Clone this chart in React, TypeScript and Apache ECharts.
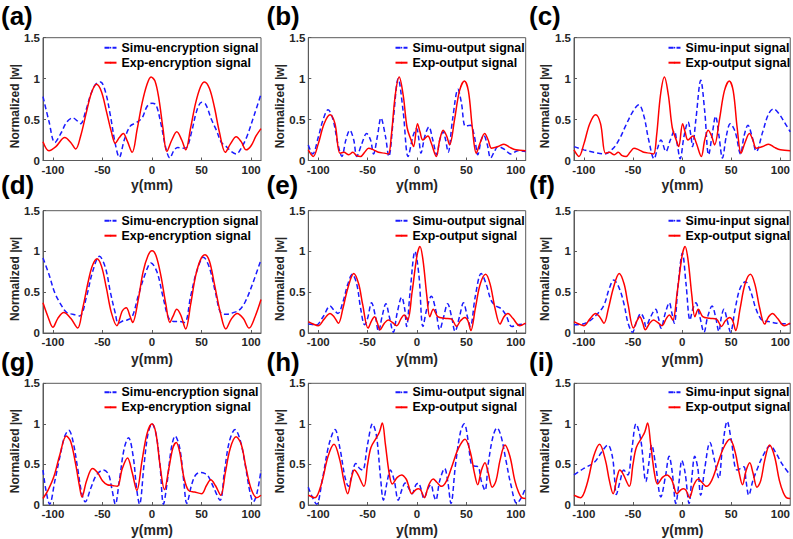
import React, { useEffect, useRef } from 'react';
import * as echarts from 'echarts';

const panelLetters = ['(a)', '(b)', '(c)', '(d)', '(e)', '(f)', '(g)', '(h)', '(i)'];
const simuNames = ['Simu-encryption signal', 'Simu-output signal', 'Simu-input signal'];
const expNames = ['Exp-encryption signal', 'Exp-output signal', 'Exp-output signal'];
const xTicks = [-100, -50, 0, 50, 100];
const xLabelText = 'y(mm)';
const yLabelText = 'Normalized |w|';

// (a)
const simuA = [[-110,0.78],[-104,0.48],[-98,0.22],[-92,0.33],[-86,0.47],[-80,0.52],[-75,0.48],[-72,0.45],[-67,0.6],[-62,0.8],[-57,0.93],[-52,0.96],[-47,0.84],[-42,0.55],[-37,0.2],[-33,0.04],[-28,0.25],[-22,0.42],[-16,0.46],[-10,0.52],[-5,0.66],[0,0.7],[4,0.68],[9,0.45],[14,0.15],[18,0.03],[22,0.12],[26,0.16],[31,0.15],[35,0.16],[40,0.35],[45,0.6],[50,0.71],[54,0.69],[60,0.5],[65,0.37],[70,0.22],[75,0.17],[80,0.11],[85,0.08],[90,0.15],[96,0.3],[103,0.55],[110,0.81]];
const expA = [[-110,0.23],[-104,0.12],[-97,0.17],[-88,0.28],[-82,0.22],[-77,0.14],[-72,0.3],[-66,0.6],[-61,0.83],[-56,0.93],[-51,0.84],[-46,0.6],[-41,0.35],[-37,0.21],[-33,0.28],[-29,0.33],[-25,0.24],[-20,0.1],[-15,0.38],[-10,0.7],[-5,0.93],[-1,1.02],[3,0.97],[7,0.75],[11,0.4],[15,0.11],[20,0.25],[25,0.35],[30,0.25],[34,0.13],[39,0.4],[44,0.7],[49,0.9],[53,0.96],[58,0.88],[63,0.65],[68,0.35],[74,0.1],[79,0.2],[85,0.29],[90,0.23],[95,0.13],[100,0.18],[105,0.3],[110,0.39]];
// (b)
const simuB = [[-110,0.19],[-105.5,0.08],[-100,0.28],[-95,0.5],[-90,0.62],[-85,0.5],[-80,0.2],[-76,0.05],[-72,0.25],[-68,0.37],[-64,0.25],[-61,0.05],[-56,0.2],[-51,0.33],[-47,0.25],[-44,0.08],[-40,0.3],[-36.5,0.52],[-32,0.3],[-28.5,0.05],[-24,0.5],[-19,1.0],[-14,0.6],[-9,0.05],[-4,0.3],[-0.5,0.39],[2,0.25],[4,0.09],[8,0.3],[12,0.41],[16,0.25],[20,0.07],[23,0.25],[26.5,0.35],[29,0.25],[31.5,0.1],[36,0.5],[41.5,0.87],[45,0.7],[49,0.42],[54,0.43],[58,0.3],[61.5,0.07],[65,0.25],[67.5,0.31],[71,0.2],[74.5,0.03],[78,0.1],[82,0.17],[88,0.14],[95,0.08],[102,0.12],[110,0.11]];
const expB = [[-110,0.13],[-105,0.05],[-100,0.2],[-94,0.45],[-88,0.56],[-83,0.45],[-78,0.09],[-74,0.1],[-69,0.07],[-65,0.1],[-61,0.06],[-57,0.05],[-53,0.1],[-49,0.15],[-44,0.13],[-39,0.1],[-33,0.09],[-29,0.08],[-26,0.3],[-22,0.8],[-18,1.02],[-14,0.8],[-10,0.4],[-6,0.25],[-3.5,0.17],[0.5,0.45],[3,0.35],[6,0.25],[11,0.3],[14.5,0.21],[19.5,0.05],[23,0.25],[26.5,0.37],[30,0.3],[33,0.19],[38,0.5],[43,0.85],[48,0.97],[52,0.85],[56,0.4],[60,0.09],[64,0.22],[68.5,0.33],[72,0.25],[75.5,0.15],[82,0.17],[88,0.2],[94,0.16],[100,0.13],[110,0.12]];
// (c)
const simuC = [[-110,0.17],[-100,0.13],[-90,0.1],[-79,0.08],[-70,0.15],[-63,0.28],[-58,0.41],[-50,0.6],[-44,0.68],[-39,0.55],[-34,0.25],[-28.5,0.02],[-25,0.15],[-21.5,0.25],[-16.5,0.11],[-12,0.25],[-8,0.36],[-5,0.2],[-2,0.02],[2,0.3],[6,0.47],[9,0.3],[10.5,0.17],[14,0.5],[19,0.98],[23,0.6],[27,0.07],[31,0.35],[34,0.54],[37.5,0.3],[41,0.03],[45,0.3],[49,0.45],[54,0.35],[59.5,0.08],[63,0.3],[67,0.43],[71,0.3],[75.5,0.11],[82,0.35],[88,0.57],[93,0.63],[98,0.58],[104,0.47],[110,0.35]];
// (d)
const simuD = [[-110,0.92],[-104,0.72],[-98,0.49],[-91,0.33],[-86,0.25],[-80,0.23],[-73,0.21],[-66,0.45],[-60,0.75],[-53,0.94],[-47,0.8],[-42,0.5],[-37,0.24],[-34,0.12],[-29,0.15],[-25,0.16],[-20,0.2],[-14,0.45],[-7,0.72],[-1,0.86],[5,0.75],[11,0.45],[17,0.18],[23,0.14],[28,0.14],[33,0.13],[39,0.45],[45,0.75],[52,0.93],[58,0.8],[64,0.5],[70,0.24],[76,0.23],[82,0.25],[88,0.28],[94,0.38],[102,0.62],[110,0.9]];
const expD = [[-110,0.37],[-105,0.2],[-100,0.07],[-95,0.18],[-89,0.25],[-82,0.18],[-75,0.06],[-70,0.3],[-64,0.65],[-60,0.83],[-55.5,0.91],[-51,0.82],[-46,0.55],[-41,0.25],[-35.5,0.09],[-30,0.27],[-26,0.31],[-22,0.2],[-19.5,0.13],[-14,0.4],[-9,0.75],[-4,0.95],[0,1.01],[4,0.95],[9,0.7],[14,0.35],[18,0.13],[21,0.2],[25,0.29],[29,0.22],[34,0.05],[39,0.35],[44,0.7],[49,0.9],[53.5,0.96],[58,0.88],[63,0.6],[69,0.25],[74.5,0.05],[80,0.17],[86,0.24],[92,0.18],[98,0.06],[104,0.2],[110,0.41]];
// (e)
const simuE = [[-110,0.11],[-102,0.1],[-95,0.2],[-88,0.33],[-84,0.28],[-80,0.24],[-75,0.38],[-70,0.6],[-65.5,0.72],[-61,0.6],[-57,0.3],[-53,0.1],[-50,0.18],[-46,0.37],[-42,0.2],[-39,0.02],[-35,0.22],[-31.5,0.36],[-28,0.2],[-24,0.01],[-20,0.25],[-15.5,0.44],[-12.5,0.3],[-10.5,0.08],[-7,0.5],[-2,1.0],[2,0.7],[6,0.08],[10,0.3],[14.5,0.45],[19,0.28],[23,0.04],[27,0.2],[31,0.36],[35,0.2],[38.5,0.02],[43,0.2],[47,0.37],[51,0.2],[54,0.08],[59,0.45],[65,0.73],[70,0.6],[75,0.4],[80,0.33],[85,0.3],[90,0.22],[96,0.08],[102,0.1],[110,0.11]];
const expE = [[-110,0.14],[-105,0.11],[-100,0.09],[-94,0.17],[-88,0.24],[-84,0.2],[-79.5,0.12],[-75,0.3],[-70,0.55],[-64,0.73],[-59,0.6],[-55,0.35],[-49.5,0.06],[-46,0.15],[-43,0.2],[-40,0.12],[-37.5,0.04],[-33,0.12],[-29,0.16],[-25,0.13],[-20.5,0.09],[-16,0.18],[-13,0.22],[-9.5,0.16],[-5,0.5],[0,0.95],[3,1.06],[6,0.9],[10,0.45],[13,0.2],[16.5,0.29],[21,0.2],[28,0.18],[35,0.17],[40,0.08],[44,0.15],[48.5,0.19],[51.5,0.15],[54.5,0.03],[59,0.3],[64,0.6],[69.5,0.72],[74,0.6],[79,0.3],[84,0.11],[88,0.2],[92,0.24],[97,0.18],[104,0.09],[110,0.12]];
// (f)
const simuF = [[-110,0.1],[-101,0.11],[-94,0.15],[-89,0.2],[-80,0.33],[-74,0.55],[-69.5,0.65],[-64,0.55],[-59,0.35],[-55,0.12],[-50.5,0.01],[-46,0.15],[-42,0.24],[-39,0.18],[-36.8,0.08],[-32,0.2],[-27,0.29],[-24,0.18],[-21.5,0.06],[-17,0.25],[-13,0.37],[-10.5,0.25],[-8,0.12],[-4,0.6],[0.3,0.98],[4,0.6],[8,0.16],[11,0.3],[14,0.37],[18,0.2],[22.3,0.01],[26,0.2],[30.5,0.33],[34,0.2],[37.4,0.02],[40,0.2],[42.5,0.29],[46,0.15],[49.2,0.01],[54,0.3],[59,0.55],[64.4,0.63],[70,0.5],[75,0.3],[81,0.16],[88,0.14],[96,0.12],[110,0.11]];
// (g)
const simuG = [[-110,0.43],[-107,0.18],[-103.3,0.01],[-98,0.3],[-92,0.65],[-88,0.85],[-84,0.92],[-80,0.8],[-75,0.45],[-71,0.15],[-67.3,0.04],[-62,0.2],[-56,0.37],[-49,0.43],[-44,0.38],[-40.5,0.2],[-37,0.01],[-33,0.3],[-28,0.7],[-23.7,0.83],[-19,0.6],[-15.5,0.2],[-12.6,0.01],[-8,0.5],[-4,0.88],[0,1.0],[4,0.88],[8,0.5],[11.6,0.01],[15,0.25],[19.5,0.7],[23.4,0.85],[28,0.7],[32,0.3],[35.1,0.02],[40,0.25],[44,0.37],[48.5,0.4],[53,0.39],[57,0.35],[62,0.22],[68.7,0.06],[73,0.4],[78,0.78],[83.8,0.93],[89,0.8],[94,0.5],[99,0.15],[102.3,0.04],[106,0.15],[110,0.43]];
const expG = [[-110,0.08],[-105,0.18],[-99,0.35],[-93,0.62],[-86.5,0.85],[-82,0.78],[-77,0.5],[-73,0.22],[-70.7,0.1],[-66,0.3],[-60,0.45],[-55,0.4],[-50,0.3],[-45,0.25],[-40,0.24],[-35,0.23],[-30,0.45],[-24.7,0.58],[-20,0.4],[-15.3,0.18],[-10,0.55],[-5,0.88],[0,1.0],[4,0.88],[8,0.5],[12.6,0.19],[17,0.45],[21,0.7],[24.4,0.77],[28,0.65],[32,0.35],[36.8,0.18],[43,0.16],[50,0.14],[55,0.24],[59.3,0.31],[64,0.24],[69.4,0.12],[74,0.4],[79,0.7],[84.8,0.84],[90,0.75],[95,0.45],[100,0.2],[105.7,0.09],[110,0.12]];
// (h)
const simuH = [[-110,0.22],[-106,0.1],[-101.6,0.01],[-96,0.3],[-90,0.7],[-85,0.9],[-83,0.93],[-78,0.7],[-73,0.35],[-69.5,0.23],[-65,0.42],[-62,0.51],[-58,0.45],[-55,0.43],[-50,0.75],[-45,1.0],[-41,0.85],[-37,0.35],[-34,0.06],[-30,0.3],[-27,0.43],[-23,0.3],[-19,0.06],[-15,0.2],[-12,0.27],[-8,0.2],[-5,0.14],[-1,0.25],[1.3,0.27],[4,0.2],[7,0.08],[11,0.2],[14,0.25],[17,0.12],[19,0.06],[23,0.3],[28,0.45],[31,0.3],[34.4,0.02],[39,0.5],[44,0.9],[47.9,1.0],[51,0.85],[55,0.5],[58,0.48],[62,0.47],[65,0.3],[68.8,0.18],[72,0.5],[77,0.85],[81,0.95],[85,0.85],[90,0.55],[95,0.25],[101,0.02],[106,0.1],[110,0.22]];
const expH = [[-110,0.12],[-103.3,0.09],[-97,0.25],[-90,0.6],[-84,0.75],[-78,0.55],[-74,0.3],[-70.2,0.14],[-66,0.35],[-63.4,0.43],[-60,0.38],[-53.7,0.23],[-50,0.5],[-46.6,0.71],[-41,0.83],[-38,0.9],[-35.1,1.01],[-32,0.75],[-28,0.38],[-25,0.26],[-20,0.34],[-15.5,0.37],[-11,0.32],[-8.8,0.25],[-5.4,0.14],[-1,0.19],[1.3,0.2],[4,0.18],[7.4,0.09],[12,0.25],[16.5,0.32],[20,0.28],[24.9,0.23],[30,0.3],[36,0.5],[42,0.7],[48.6,0.81],[54,0.65],[58,0.4],[61.4,0.25],[65,0.42],[68.8,0.52],[72,0.4],[76.2,0.22],[80,0.3],[84,0.55],[89,0.74],[94,0.6],[99,0.3],[103,0.15],[106,0.09],[110,0.08]];
// (i)
const simuI = [[-110,0.37],[-100,0.45],[-89,0.53],[-82,0.65],[-75.6,0.74],[-71,0.6],[-68.5,0.3],[-67,0.13],[-63,0.3],[-59.4,0.43],[-55.3,0.37],[-51,0.7],[-46.9,1.0],[-42,0.8],[-36.8,0.29],[-34,0.5],[-31,0.74],[-27,0.5],[-21.6,0.1],[-17,0.35],[-13.2,0.6],[-10,0.4],[-6.4,0.02],[-3,0.3],[-0.3,0.55],[3,0.4],[7.1,0.02],[10,0.35],[12.8,0.6],[16,0.45],[18.9,0.12],[23,0.45],[28.3,0.77],[33,0.55],[37.4,0.33],[41,0.7],[45.9,1.03],[50,0.8],[56,0.43],[62.7,0.47],[65,0.3],[67.8,0.12],[72,0.3],[76,0.43],[82,0.6],[89.7,0.73],[95,0.65],[102,0.5],[110,0.37]];

const simuSeries = [simuA, simuB, simuC, simuD, simuE, simuF, simuG, simuH, simuI];
const expSeries = [expA, expB, expB, expD, expE, expE, expG, expH, expH];

// layout (pixels)
const colLeft = [43, 308.3, 574];
const colWidth = [218, 217.4, 217];
const rowTop = [37.7, 210.7, 383.3];
const rowHeight = [122.8, 122.3, 121.7];
const legendLeft = [103.5, 394.5, 667.5];
const legendTop = [40.7, 213.7, 385.3];
const letterX = [1, 266.5, 529];
const letterY = [16, 184.5, 362];
const xLabelY = [185, 359, 530];
const yLabelX = [15, 280, 545];

const FONT = '"Liberation Sans", Arial, Helvetica, sans-serif';
const AXIS_COLOR = '#5a5a5a';
const TEXT_COLOR = '#262626';

export default function App() {
  const ref = useRef<HTMLDivElement>(null);
  useEffect(() => {
    if (!ref.current) return;
    const chart = echarts.init(ref.current, undefined, { renderer: 'svg' });
    const grids: any[] = [];
    const xAxes: any[] = [];
    const yAxes: any[] = [];
    const series: any[] = [];
    const legends: any[] = [];
    const graphics: any[] = [];
    for (let i = 0; i < 9; i++) {
      const r = Math.floor(i / 3);
      const c = i % 3;
      grids.push({
        left: colLeft[c], top: rowTop[r], width: colWidth[c], height: rowHeight[r],
        show: true, borderColor: AXIS_COLOR, borderWidth: 1, backgroundColor: 'transparent',
      });
      xAxes.push({
        type: 'value', gridIndex: i, min: -110, max: 110,
        axisLine: { show: true, onZero: false, lineStyle: { color: AXIS_COLOR, width: 1 } },
        axisTick: { show: true, inside: true, length: 3, customValues: xTicks, lineStyle: { color: AXIS_COLOR } },
        axisLabel: { customValues: xTicks, margin: 3, fontSize: 11.5, fontWeight: 'bold', color: TEXT_COLOR, fontFamily: FONT },
        splitLine: { show: false },
      });
      yAxes.push({
        type: 'value', gridIndex: i, min: 0, max: 1.5, interval: 0.5,
        axisLine: { show: true, onZero: false, lineStyle: { color: AXIS_COLOR, width: 1 } },
        axisTick: { show: true, inside: true, length: 3, lineStyle: { color: AXIS_COLOR } },
        axisLabel: { margin: 3, fontSize: 11.5, fontWeight: 'bold', color: TEXT_COLOR, fontFamily: FONT,
          formatter: (v: number) => String(v) },
        splitLine: { show: false },
      });
      const sName = simuNames[c];
      const eName = expNames[c];
      series.push({
        type: 'line', name: sName, xAxisIndex: i, yAxisIndex: i, data: simuSeries[i],
        showSymbol: false, symbol: 'none', smooth: 0.35,
        lineStyle: { color: '#1a1aff', width: 1.5, type: [5, 3] }, itemStyle: { color: '#1a1aff' },
      });
      series.push({
        type: 'line', name: eName, xAxisIndex: i, yAxisIndex: i, data: expSeries[i],
        showSymbol: false, symbol: 'none', smooth: 0.35,
        lineStyle: { color: '#ff0000', width: 1.5, type: 'solid' }, itemStyle: { color: '#ff0000' },
      });
      legends.push({
        show: true, orient: 'vertical', left: legendLeft[c], top: legendTop[r], padding: 0,
        itemWidth: 12, itemHeight: 2, itemGap: 1, selectedMode: false,
        data: [sName, eName],
        textStyle: { fontSize: 12.4, fontWeight: 'bold', color: '#000', fontFamily: FONT, lineHeight: 14 },
      });
      graphics.push({
        type: 'text', x: letterX[c], y: letterY[r],
        style: { text: panelLetters[i], verticalAlign: 'middle', fill: '#000', font: `bold 26px ${FONT}` },
      });
      graphics.push({
        type: 'text', x: colLeft[c] + colWidth[c] / 2, y: xLabelY[r],
        style: { text: xLabelText, align: 'center', verticalAlign: 'middle', fill: TEXT_COLOR, font: `bold 14px ${FONT}` },
      });
      graphics.push({
        type: 'text', x: yLabelX[c], y: rowTop[r] + rowHeight[r] / 2 + 7, rotation: Math.PI / 2,
        style: { text: yLabelText, align: 'center', verticalAlign: 'middle', fill: TEXT_COLOR, font: `bold 12px ${FONT}` },
      });
    }
    chart.setOption({
      animation: false,
      backgroundColor: '#ffffff',
      grid: grids,
      xAxis: xAxes,
      yAxis: yAxes,
      legend: legends,
      series,
      graphic: graphics,
    });
    return () => chart.dispose();
  }, []);
  return <div ref={ref} style={{ position: 'absolute', left: 0, top: 0, width: 793, height: 539 }} />;
}
